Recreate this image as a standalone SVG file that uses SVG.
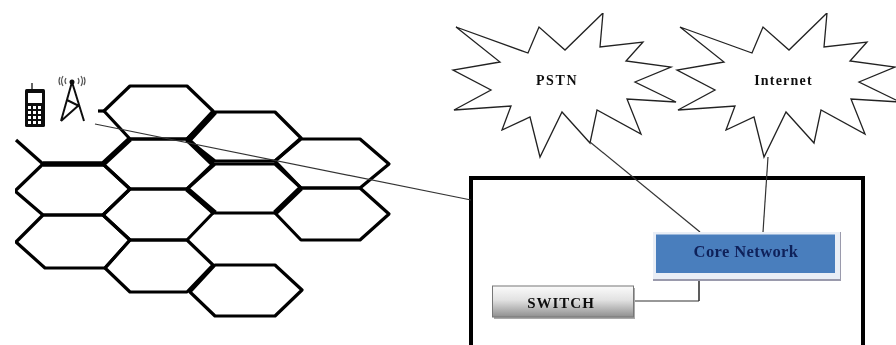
<svg xmlns="http://www.w3.org/2000/svg" width="896" height="345" viewBox="0 0 896 345">
<style>
.hex{fill:none;stroke:#000;stroke-width:3.200;stroke-linejoin:round}
.thick{fill:none;stroke:#000;stroke-width:5.500}
.star{fill:#fff;stroke:#222;stroke-width:1.300;stroke-linejoin:miter}
.conn{fill:none;stroke:#333;stroke-width:1.200}
.t{font-family:"Liberation Serif",serif;font-weight:bold;text-anchor:middle}
.ic{fill:none;stroke:#111;stroke-width:2}
</style>
<defs>
<filter id="soft" x="0" y="0" width="100%" height="100%"><feGaussianBlur stdDeviation="0.45"/></filter>
<linearGradient id="sw" x1="0" y1="0" x2="0" y2="1"><stop offset="0" stop-color="#fbfbfb"/><stop offset="0.45" stop-color="#e2e2e2"/><stop offset="1" stop-color="#8f8f8f"/></linearGradient>
<polygon id="burst" points="456,27 528,53 539,27 565,50 603,13 600,47 643,42 626,61 671,67 635,82 676,102 627,99 641,134 597,110 590,143 562,112 540,157 530,117 502,130 511,106 454,110 491,90 453,70 500,62"/>
</defs>
<rect width="896" height="345" fill="#fff"/>
<g filter="url(#soft)">
<g id="cells">
<polygon id="cell-1" class="hex" points="130,86 187,86 213,111 187,139 130,139 104,111"/>
<polygon id="cell-2" class="hex" points="215,112 275,112 301,138 275,161 215,161 187,139"/>
<polygon id="cell-3" class="hex" points="301,139 360,139 389,164 360,188 301,188 275,161"/>
<polygon id="cell-4" class="hex" points="130,139 187,139 213,164 187,189 130,189 103,164"/>
<polygon id="cell-5" class="hex" points="215,164 275,164 301,188 275,213 215,213 187,189"/>
<polygon id="cell-6" class="hex" points="301,188 360,188 389,214 360,240 301,240 275,213"/>
<polygon id="cell-7" class="hex" points="43,164 103,164 130,189 103,215 43,215 15,191"/>
<polygon id="cell-8" class="hex" points="130,189 187,189 213,213 187,240 130,240 103,215"/>
<polygon id="cell-9" class="hex" points="43,215 103,215 130,240 105,268 45,268 16,242"/>
<polygon id="cell-10" class="hex" points="130,240 187,240 213,265 187,292 130,292 105,268"/>
<polygon id="cell-11" class="hex" points="215,265 275,265 302,290 275,316 215,316 190,292"/>
<path class="hex" d="M16,140 L43,164"/>
<path class="thick" d="M43,164 H103 L130,139 M187,139 L213,164 M187,189 L215,213 M275,213 L301,188 M190,139 L215,112"/>
<path class="hex" d="M98,111 H106"/>
</g>
<g id="phone">
<rect x="25" y="89" width="20" height="38" rx="1.500" fill="#111"/>
<rect x="28" y="93" width="14" height="10" fill="#fff"/>
<path d="M32,83 V89" stroke="#333" stroke-width="1.500"/>
<path d="M28,106h3v3h-3zM33,106h3v3h-3zM38,106h3v3h-3zM28,111h3v3h-3zM33,111h3v3h-3zM38,111h3v3h-3zM28,116h3v3h-3zM33,116h3v3h-3zM38,116h3v3h-3zM28,121h3v3h-3zM33,121h3v3h-3zM38,121h3v3h-3z" fill="#fff"/>
</g>
<g id="tower">
<path class="ic" d="M72,82 L61,121 M72,82 L84,121 M61,121 L79,105 M67,100 L79,106"/>
<circle cx="72" cy="82" r="2.500" fill="#111"/>
<path d="M63,76 Q60,81 63,86 M66,78 Q64,81 66,84 M81,76 Q84,81 81,86 M78,78 Q80,81 78,84 M60,77 Q58,81 60,85 M84,77 Q86,81 84,85" fill="none" stroke="#555" stroke-width="1.200"/>
</g>
<g id="pstn">
<use href="#burst" class="star"/>
<text class="t" x="557" y="84.500" font-size="14" letter-spacing="1.600" fill="#111">PSTN</text>
</g>
<g id="internet">
<use href="#burst" class="star" x="224"/>
<text class="t" x="783.500" y="84.500" font-size="14" letter-spacing="1.200" fill="#111">Internet</text>
</g>
<g id="network-box">
<path d="M471,345 V178 H863 V345" fill="none" stroke="#000" stroke-width="4"/>
</g>
<g id="connectors">
<path class="conn" d="M95,124 L471,200" stroke-width="1"/>
<path class="conn" d="M590,142 L700,232"/>
<path class="conn" d="M768,157 L763,232"/>
<path class="conn" d="M634,301 H699"/>
<path d="M699,275 V301" fill="none" stroke="#333" stroke-width="1.600"/>
</g>
<g id="core-network">
<rect x="653" y="232" width="188" height="49" fill="#9a9aac"/>
<rect x="653" y="232" width="187" height="47" fill="#e9eef6"/>
<rect x="656" y="234.500" width="179" height="38.500" fill="#4a7ebd"/>
<text class="t" x="746" y="256.500" font-size="16.500" letter-spacing="0.400" fill="#10205a">Core Network</text>
</g>
<g id="switch">
<rect x="494" y="288" width="141" height="31" fill="#aaa"/>
<rect x="492.500" y="286" width="141" height="31" fill="url(#sw)" stroke="#777" stroke-width="1"/>
<text class="t" x="561" y="308" font-size="15" letter-spacing="1" fill="#111">SWITCH</text>
</g>
</g>
</svg>
